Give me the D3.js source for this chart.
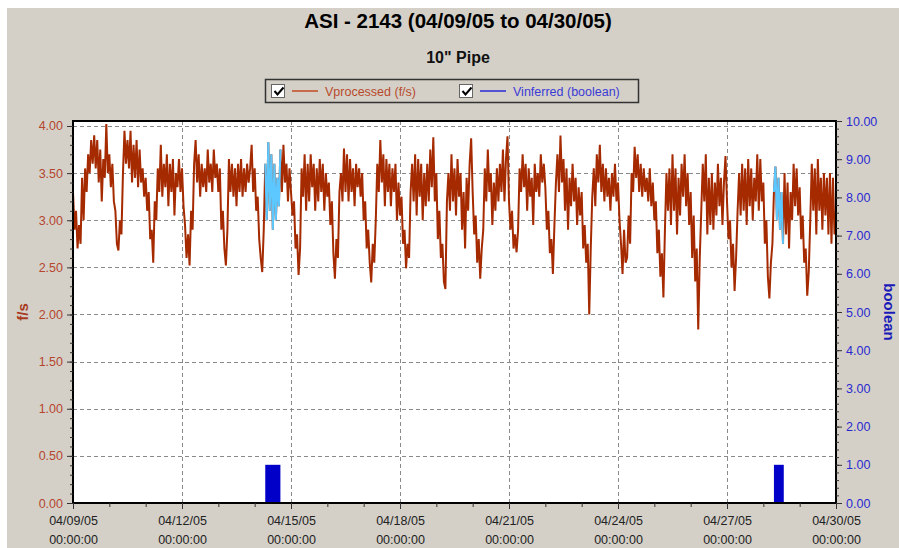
<!DOCTYPE html>
<html>
<head>
<meta charset="utf-8">
<script src="https://cdn.jsdelivr.net/npm/d3@7"></script>
<style>
body { margin: 0; background: #fff; }
svg text { font-family: "Liberation Sans", Arial, sans-serif; }
</style>
</head>
<body>
<div id="chart"></div>
<script>
var width = 899, height = 548;

var titleText = "ASI - 2143 (04/09/05 to 04/30/05)";
var subtitleText = "10\" Pipe";
var seriesNames = ["Vprocessed (f/s)", "Vinferred (boolean)"];

var startTime = new Date(2005, 3, 9, 0, 0);
var endTime = new Date(2005, 3, 30, 0, 0);

// Vprocessed (f/s), one reading per hour, one row per day from 04/09/05
var vprocessed = [
  3.3,2.9,3.1,2.7,2.95,2.75,3.45,3.0,3.55,3.3,3.7,3.5,3.85,3.6,3.9,3.55,3.85,3.4,3.75,3.2,3.65,3.45,4.02,3.5,
  3.7,3.35,3.6,3.2,3.1,2.75,2.68,3.0,2.85,3.5,3.95,3.6,3.85,3.55,3.95,3.4,3.8,3.45,3.85,3.35,3.75,3.4,3.55,3.25,
  3.45,3.1,3.3,2.8,2.9,2.55,3.2,3.0,3.55,3.3,3.8,3.25,3.6,3.35,3.7,3.15,3.6,3.3,3.65,3.05,3.5,3.35,3.65,3.3,
  3.55,3.15,2.95,2.6,2.85,2.52,3.1,2.9,3.6,3.85,3.4,3.7,3.25,3.6,3.35,3.55,3.3,3.75,3.4,3.6,3.3,3.75,3.45,3.6,
  3.3,3.55,2.9,3.1,2.7,2.52,2.9,3.65,3.3,3.6,3.25,3.55,3.15,3.6,3.3,3.65,3.25,3.55,3.3,3.6,3.4,3.55,3.8,3.3,
  3.55,3.1,3.25,2.8,2.6,2.45,2.9,3.6,3.0,3.83,3.1,3.7,2.9,3.6,3.0,3.45,3.15,3.75,3.3,3.8,3.4,3.6,3.2,3.55,
  3.3,3.05,3.2,2.7,2.85,2.42,2.7,3.55,3.25,3.7,3.1,3.6,3.2,3.7,3.35,3.6,3.1,3.55,3.2,3.65,3.3,3.6,3.1,3.5,
  3.25,3.4,2.95,3.2,2.65,2.38,2.8,2.6,3.3,3.5,3.2,3.76,3.3,3.7,3.2,3.65,3.3,3.55,3.15,3.6,3.35,3.55,3.25,3.5,
  3.0,3.2,2.7,2.9,2.55,2.34,2.75,2.55,3.0,3.6,3.3,3.85,3.4,3.7,3.15,3.65,3.3,3.6,3.15,3.55,3.3,3.6,3.0,3.4,
  3.05,3.25,2.75,2.9,2.49,2.75,2.6,3.3,3.6,3.2,3.7,3.05,3.65,3.25,3.6,3.0,3.5,3.15,3.6,3.2,3.75,3.35,3.88,3.2,
  3.5,2.8,3.1,2.6,2.75,2.35,2.27,3.2,3.5,3.1,3.7,3.2,3.55,3.05,3.65,3.25,3.5,2.9,3.3,2.7,3.45,3.1,3.6,3.87,
  3.3,2.85,3.05,2.55,2.8,2.38,2.7,2.9,3.55,3.2,3.75,3.3,3.5,2.95,3.4,3.1,3.55,3.2,3.6,3.3,3.75,3.2,3.65,3.89,
  3.2,2.9,3.1,2.7,2.85,2.66,2.9,3.55,3.3,3.7,3.35,3.6,3.1,3.55,3.25,3.45,2.95,3.6,3.3,3.5,3.25,3.7,3.4,3.6,
  3.35,2.9,3.1,2.65,2.8,2.43,2.95,3.4,3.7,3.3,3.9,3.4,3.65,3.1,3.55,2.9,3.45,3.15,3.6,3.2,3.45,2.95,3.35,3.05,
  3.3,2.7,2.95,2.55,2.75,2.0,2.7,3.25,3.55,3.15,3.7,3.4,3.8,3.3,3.6,3.2,3.55,3.25,3.45,3.1,3.5,3.25,3.6,3.2,
  3.4,3.0,2.75,2.43,2.9,2.55,2.6,3.05,2.75,3.5,3.3,3.78,3.45,3.7,3.3,3.6,3.25,3.55,3.3,3.45,3.2,3.55,3.15,3.4,
  3.0,3.2,2.65,2.9,2.4,2.65,2.18,2.9,3.5,3.1,3.55,2.95,3.7,3.1,3.55,2.85,3.45,3.05,3.6,3.25,3.7,3.15,3.5,2.95,
  3.3,2.6,3.05,2.35,2.7,1.84,2.6,3.1,3.6,3.2,3.7,2.85,3.45,2.95,3.5,2.9,3.4,3.05,3.6,3.15,3.45,2.95,3.4,3.68,
  3.2,2.8,3.0,2.5,2.75,2.25,2.6,3.1,3.5,3.05,3.6,3.1,3.55,2.95,3.65,3.15,3.55,3.0,3.45,3.2,3.7,3.1,3.65,3.2,
  3.4,2.75,3.0,2.4,2.17,2.55,2.75,3.3,3.57,3.0,3.45,2.9,3.3,2.75,3.5,2.85,3.4,2.7,3.3,3.0,3.6,3.15,3.55,3.05,
  3.35,2.8,3.05,2.55,2.7,2.2,2.45,3.0,3.6,3.1,3.55,2.85,3.65,3.1,3.45,2.9,3.5,3.05,3.45,2.85,3.5,2.75,3.45,2.85,
  3.1
];

// Vinferred (boolean): periods where the flag is on
var inferredStarts = [new Date(2005, 3, 14, 7, 0), new Date(2005, 3, 28, 7, 0)];
var inferredEnds = [new Date(2005, 3, 14, 17, 0), new Date(2005, 3, 28, 13, 30)];
var inferredValues = [1, 1];

var leftTicks = [0, 0.5, 1, 1.5, 2, 2.5, 3, 3.5, 4];
var rightTicks = [0, 1, 2, 3, 4, 5, 6, 7, 8, 9, 10];

var plot = { left: 73, right: 836, top: 121, bottom: 503 };

var svg = d3.select("#chart").append("svg")
  .attr("width", width)
  .attr("height", height);

svg.append("rect").attr("x", 7).attr("y", 8)
  .attr("width", width - 7).attr("height", height - 8)
  .attr("fill", "#d4d0c8");

svg.append("text").attr("x", 458).attr("y", 28)
  .attr("text-anchor", "middle").attr("font-size", 20.5).attr("font-weight", "bold")
  .attr("fill", "#000").text(titleText);
svg.append("text").attr("x", 458).attr("y", 63)
  .attr("text-anchor", "middle").attr("font-size", 16).attr("font-weight", "bold")
  .attr("fill", "#111").text(subtitleText);

// legend
var legend = svg.append("g");
legend.append("rect").attr("x", 265.5).attr("y", 79.5).attr("width", 373).attr("height", 23)
  .attr("fill", "none").attr("stroke", "#333").attr("stroke-width", 1.5);
var legendItems = [
  { x: 271, name: seriesNames[0], line: "#c24a22", text: "#b84a2a" },
  { x: 459, name: seriesNames[1], line: "#2a2ad8", text: "#3b3bd6" }
];
legendItems.forEach(function(it) {
  legend.append("rect").attr("x", it.x + 0.5).attr("y", 84.5).attr("width", 13).attr("height", 13)
    .attr("fill", "#fff").attr("stroke", "#666");
  legend.append("path").attr("d", "M" + (it.x + 3.5) + ",91 l3,3.5 l6,-7")
    .attr("fill", "none").attr("stroke", "#000").attr("stroke-width", 2);
  legend.append("line").attr("x1", it.x + 21).attr("x2", it.x + 47).attr("y1", 91).attr("y2", 91)
    .attr("stroke", it.line).attr("stroke-width", 1.5);
  legend.append("text").attr("x", it.x + 54).attr("y", 95.5).attr("font-size", 12.5)
    .attr("fill", it.text).text(it.name);
});

var x = d3.scaleTime().domain([startTime, endTime]).range([plot.left, plot.right]);
var yL = d3.scaleLinear().domain([0, 4.053]).range([plot.bottom, plot.top]);
var yR = d3.scaleLinear().domain([0, 10]).range([plot.bottom, plot.top]);

svg.append("rect").attr("x", plot.left).attr("y", plot.top)
  .attr("width", plot.right - plot.left).attr("height", plot.bottom - plot.top)
  .attr("fill", "#fff");

svg.append("clipPath").attr("id", "clip").append("rect")
  .attr("x", plot.left).attr("y", plot.top)
  .attr("width", plot.right - plot.left).attr("height", plot.bottom - plot.top);

var xMajor = d3.timeDay.range(startTime, new Date(2005, 3, 30, 1), 3);
var xMinor = d3.timeDay.range(startTime, new Date(2005, 3, 30, 1));

// grid
var grid = svg.append("g").attr("stroke", "#8a8a8a").attr("stroke-dasharray", "4,3").attr("stroke-width", 1);
grid.selectAll(".gy").data(leftTicks.slice(1)).enter().append("line")
  .attr("x1", plot.left).attr("x2", plot.right)
  .attr("y1", function(d) { return Math.round(yL(d)) + 0.5; })
  .attr("y2", function(d) { return Math.round(yL(d)) + 0.5; });
grid.selectAll(".gx").data(xMajor.slice(1, -1)).enter().append("line")
  .attr("y1", plot.top).attr("y2", plot.bottom)
  .attr("x1", function(d) { return Math.round(x(d)) + 0.5; })
  .attr("x2", function(d) { return Math.round(x(d)) + 0.5; });

// series
var points = vprocessed.map(function(v, i) {
  return { t: d3.timeHour.offset(startTime, i), v: v };
});
var line = d3.line().x(function(d) { return x(d.t); }).y(function(d) { return yL(d.v); });
var series = svg.append("g").attr("clip-path", "url(#clip)");
series.append("path").datum(points).attr("d", line)
  .attr("fill", "none").attr("stroke", "#a52a00").attr("stroke-width", 2);
inferredStarts.forEach(function(s, i) {
  var seg = points.filter(function(p) { return p.t >= s && p.t <= inferredEnds[i]; });
  series.append("path").datum(seg).attr("d", line)
    .attr("fill", "none").attr("stroke", "#5cc8ff").attr("stroke-width", 2);
});

// inferred bars
svg.append("g").selectAll("rect").data(inferredValues).enter().append("rect")
  .attr("x", function(d, i) { return x(inferredStarts[i]); })
  .attr("width", function(d, i) { return x(inferredEnds[i]) - x(inferredStarts[i]); })
  .attr("y", function(d) { return yR(d); })
  .attr("height", function(d) { return yR(0) - yR(d); })
  .attr("fill", "#0000c8");

// frame
svg.append("rect").attr("x", plot.left).attr("y", plot.top)
  .attr("width", plot.right - plot.left).attr("height", plot.bottom - plot.top)
  .attr("fill", "none").attr("stroke", "#000").attr("stroke-width", 2);

// axes
function styleAxis(g, color) {
  g.select(".domain").remove();
  g.selectAll(".tick line").attr("stroke", "#333");
  g.selectAll("text").attr("fill", color).attr("font-size", 12.5)
    .style("font-family", "'Liberation Sans', Arial, sans-serif");
}

var leftMinor = svg.append("g").attr("transform", "translate(" + plot.left + ",0)")
  .call(d3.axisLeft(yL).tickValues(d3.range(0, 41).map(function(i) { return i / 10; })).tickSize(3).tickFormat(""));
styleAxis(leftMinor, "#000");
var leftAxis = svg.append("g").attr("transform", "translate(" + plot.left + ",0)")
  .call(d3.axisLeft(yL).tickValues(leftTicks).tickSize(6).tickPadding(4).tickFormat(d3.format(".2f")));
styleAxis(leftAxis, "#b5462e");

var rightMinor = svg.append("g").attr("transform", "translate(" + plot.right + ",0)")
  .call(d3.axisRight(yR).tickValues(d3.range(0, 51).map(function(i) { return i / 5; })).tickSize(3).tickFormat(""));
styleAxis(rightMinor, "#000");
var rightAxis = svg.append("g").attr("transform", "translate(" + plot.right + ",0)")
  .call(d3.axisRight(yR).tickValues(rightTicks).tickSize(6).tickPadding(4).tickFormat(d3.format(".2f")));
styleAxis(rightAxis, "#2a2ad0");

var bottomMinor = svg.append("g").attr("transform", "translate(0," + plot.bottom + ")")
  .call(d3.axisBottom(x).tickValues(xMinor).tickSize(4).tickFormat(""));
styleAxis(bottomMinor, "#000");
var bottomAxis = svg.append("g").attr("transform", "translate(0," + plot.bottom + ")")
  .call(d3.axisBottom(x).tickValues(xMajor).tickSize(6).tickFormat(""));
styleAxis(bottomAxis, "#222");
var fmtDate = d3.timeFormat("%m/%d/%y"), fmtTime = d3.timeFormat("%H:%M:%S");
bottomAxis.selectAll(".tick").append("text")
  .attr("text-anchor", "middle").attr("fill", "#222").attr("font-size", 12.5)
  .each(function(d) {
    var t = d3.select(this);
    t.append("tspan").attr("x", 0).attr("y", 22).text(fmtDate(d));
    t.append("tspan").attr("x", 0).attr("y", 41).text(fmtTime(d));
  });

// axis titles
svg.append("text").attr("transform", "translate(28,312) rotate(-90)")
  .attr("text-anchor", "middle").attr("font-size", 15).attr("font-weight", "bold")
  .attr("fill", "#a83a1e").text("f/s");
svg.append("text").attr("transform", "translate(884,312) rotate(90)")
  .attr("text-anchor", "middle").attr("font-size", 15).attr("font-weight", "bold")
  .attr("fill", "#1a1ab8").text("boolean");
</script>
</body>
</html>
